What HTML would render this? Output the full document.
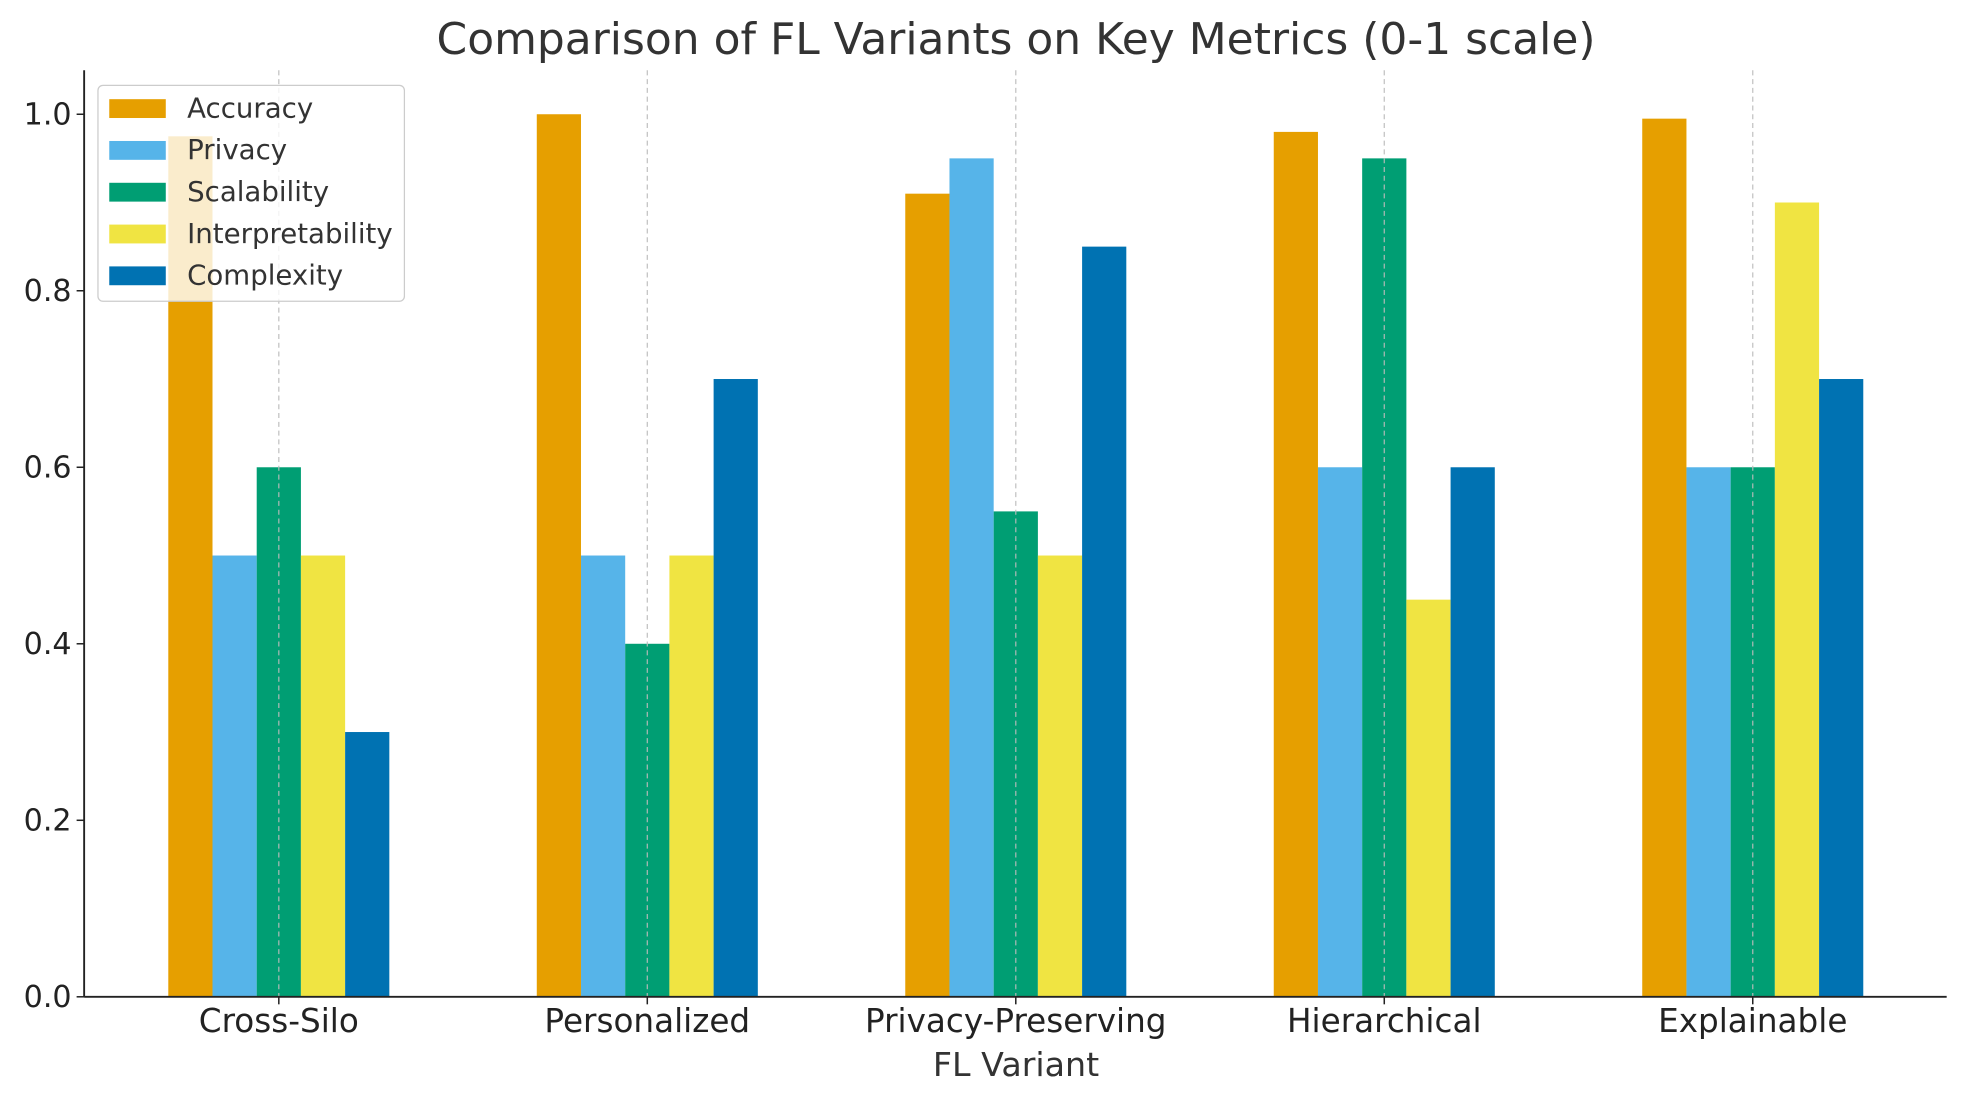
<!DOCTYPE html>
<html><head><meta charset="utf-8"><style>
html,body{margin:0;padding:0;background:#fff;}
svg{display:block;font-family:"DejaVu Sans","Liberation Sans",sans-serif;}
</style></head><body>
<svg id="chart" width="1963" height="1101" viewBox="0 0 1563 877" preserveAspectRatio="none" xmlns="http://www.w3.org/2000/svg">
<rect width="1563" height="877" fill="#fff"/>
<text x="809" y="43" font-size="35" text-anchor="middle" fill="#333">Comparison of FL Variants on Key Metrics (0-1 scale)</text>
<g id="grid"></g>
<g id="bars"></g>
<g id="axes"></g>
<g id="legend"></g>
<text x="809" y="857" font-size="26.5" text-anchor="middle" fill="#333">FL Variant</text>
</svg>
<script>
const categories = ["Cross-Silo","Personalized","Privacy-Preserving","Hierarchical","Explainable"];
const seriesNames = ["Accuracy","Privacy","Scalability","Interpretability","Complexity"];
const accuracy = [0.975,1.0,0.91,0.98,0.995];
const privacy = [0.5,0.5,0.95,0.6,0.6];
const scalability = [0.6,0.4,0.55,0.95,0.6];
const interpretability = [0.5,0.5,0.5,0.45,0.9];
const complexity = [0.3,0.7,0.85,0.6,0.7];
const yTicks = [0,0.2,0.4,0.6,0.8,1.0];
const colors = ["#E69F00","#56B4E9","#009E73","#F0E442","#0072B2"];
const series = [accuracy,privacy,scalability,interpretability,complexity];

const NS="http://www.w3.org/2000/svg";
const X0=67,X1=1550,Y0=794,PPU=703,YTOP=56;
const step=293.5, first=222, bw=35.2;
function xc(i){return first+i*(step-0.1);}
function y(v){return Y0-v*PPU;}
function mk(tag,attrs,parent){const e=document.createElementNS(NS,tag);for(const k in attrs)e.setAttribute(k,attrs[k]);parent.appendChild(e);return e;}
const grid=document.getElementById('grid'),bars=document.getElementById('bars'),axes=document.getElementById('axes'),legend=document.getElementById('legend');

series.forEach((s,si)=>{
  s.forEach((v,i)=>{
    const x=xc(i)-2.5*bw+si*bw;
    const r=mk('rect',{x:x,y:y(v),width:bw,height:Y0-y(v),fill:colors[si]},bars);
    
    
  });
});
categories.forEach((c,i)=>{
  const g=mk('line',{x1:xc(i),x2:xc(i),y1:YTOP,y2:Y0,stroke:'#bbb','stroke-width':1,'stroke-dasharray':'4,3','stroke-opacity':0.9},bars);
  
  
});
let a=mk('line',{x1:X0,x2:X0,y1:YTOP,y2:Y0,stroke:'#222','stroke-width':1.5},axes);


a=mk('line',{x1:X0,x2:X1,y1:Y0,y2:Y0,stroke:'#222','stroke-width':1.5},axes);


yTicks.forEach(t=>{
  mk('line',{x1:X0-6,x2:X0,y1:y(t),y2:y(t),stroke:'#222','stroke-width':1.2},axes);
  const tx=mk('text',{x:X0-10,y:y(t)+8,'font-size':24,'text-anchor':'end',fill:'#222'},axes);
  tx.textContent=t.toFixed(1);
  
  
});
categories.forEach((c,i)=>{
  mk('line',{x1:xc(i),x2:xc(i),y1:Y0,y2:Y0+6,stroke:'#222','stroke-width':1.2},axes);
  const tx=mk('text',{x:xc(i),y:Y0+28,'font-size':26,'text-anchor':'middle',fill:'#222'},axes);
  tx.textContent=c;
  
  
});
const lb=mk('rect',{x:78,y:68,width:244,height:172,rx:4,fill:'#fff','fill-opacity':0.8,stroke:'#ccc','stroke-width':1},legend);


seriesNames.forEach((n,si)=>{
  const cy=86+si*33.3;
  const sw=mk('rect',{x:87,y:cy-7,width:45,height:15,fill:colors[si]},legend);
  
  
  const tx=mk('text',{x:149,y:cy+7.5,'font-size':22,fill:'#333'},legend);
  tx.textContent=n;
  
  
});
</script>
</body></html>
